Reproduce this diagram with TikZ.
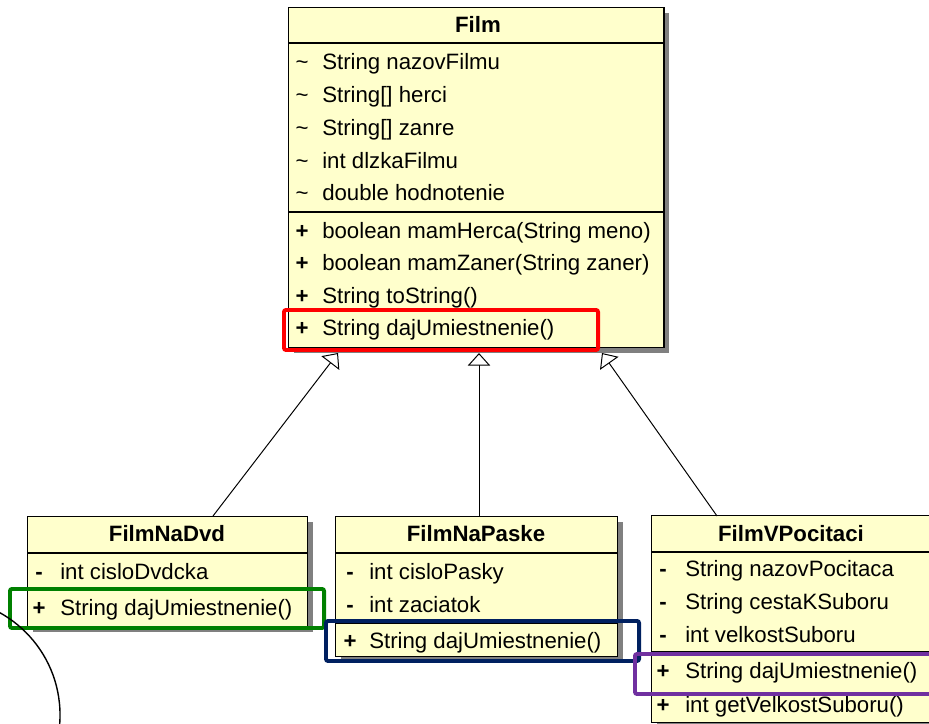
\documentclass[tikz,border=0pt]{standalone}
\usepackage{fontspec}
\setmainfont{Liberation Sans}
\usetikzlibrary{arrows.meta,shadows}
\definecolor{umlfill}{RGB}{255,255,204}
\definecolor{hlred}{RGB}{255,0,0}
\definecolor{hlgreen}{RGB}{0,128,0}
\definecolor{hlnavy}{RGB}{0,32,96}
\definecolor{hlpurple}{RGB}{112,48,160}
\begin{document}
\begin{tikzpicture}[
    x=0.025cm, y=-0.025cm,
    cls/.style={draw, line width=1pt, fill=umlfill, anchor=north west, inner sep=0pt,
      drop shadow={shadow xshift=1.3mm, shadow yshift=-1.3mm, fill=gray, opacity=1}},
    title/.style={font=\fontsize{15.8}{19}\selectfont\bfseries, inner sep=0pt, text height=13pt, text depth=1pt},
    vis/.style={font=\fontsize{15.8}{19}\selectfont\bfseries, inner sep=0pt, text height=13pt, text depth=1pt},
    member/.style={font=\fontsize{15.8}{19}\selectfont, anchor=west, inner sep=0pt, text height=13pt, text depth=1pt},
    hl/.style={draw=#1, line width=2.8pt, rounded corners=1.5pt, anchor=north west, inner sep=0pt},
    inherit/.style={-{Triangle[open, length=9pt, width=16pt, fill=white]}, line width=0.7pt}
]
\useasboundingbox (0,0) rectangle (929,724);
\clip (0,0) rectangle (929,724);

% Parent class
\node[cls, minimum width=9.375cm, minimum height=8.5cm] (film) at (288,7) {};
\draw[line width=1pt] (288,43) -- (663,43);
\draw[line width=1pt] (288,212) -- (663,212);
\node[title] (filmT) at (478,24) {Film};
\node[vis, font=\fontsize{15.8}{19}\selectfont] (filmA1v) at (302,61) {\textasciitilde};
\node[member] (filmA1) at (322,61) {String nazovFilmu};
\node[vis, font=\fontsize{15.8}{19}\selectfont] (filmA2v) at (302,94) {\textasciitilde};
\node[member] (filmA2) at (322,94) {String[] herci};
\node[vis, font=\fontsize{15.8}{19}\selectfont] (filmA3v) at (302,127) {\textasciitilde};
\node[member] (filmA3) at (322,127) {String[] zanre};
\node[vis, font=\fontsize{15.8}{19}\selectfont] (filmA4v) at (302,160) {\textasciitilde};
\node[member] (filmA4) at (322,160) {int dlzkaFilmu};
\node[vis, font=\fontsize{15.8}{19}\selectfont] (filmA5v) at (302,192) {\textasciitilde};
\node[member] (filmA5) at (322,192) {double hodnotenie};
\node[vis] (filmM1v) at (302,230) {+};
\node[member] (filmM1) at (322,230) {boolean mamHerca(String meno)};
\node[vis] (filmM2v) at (302,262) {+};
\node[member] (filmM2) at (322,262) {boolean mamZaner(String zaner)};
\node[vis] (filmM3v) at (302,295) {+};
\node[member] (filmM3) at (322,295) {String toString()};
\node[vis] (filmM4v) at (302,327) {+};
\node[member] (filmM4) at (322,327) {String dajUmiestnenie()};

% Subclasses
\node[cls, minimum width=7cm, minimum height=2.75cm] (dvd) at (27,516) {};
\draw[line width=1pt] (27,553) -- (307,553);
\draw[line width=1pt] (27,589) -- (307,589);
\node[title] (dvdT) at (167,533) {FilmNaDvd};
\node[vis] (dvdA1v) at (39,571) {-};
\node[member] (dvdA1) at (60,571) {int cisloDvdcka};
\node[vis] (dvdM1v) at (39,607) {+};
\node[member] (dvdM1) at (60,607) {String dajUmiestnenie()};

\node[cls, minimum width=7.05cm, minimum height=3.5cm] (paske) at (335,516) {};
\draw[line width=1pt] (335,553) -- (617,553);
\draw[line width=1pt] (335,623) -- (617,623);
\node[title] (paskeT) at (476,533) {FilmNaPaske};
\node[vis] (paskeA1v) at (350,571) {-};
\node[member] (paskeA1) at (369,571) {int cisloPasky};
\node[vis] (paskeA2v) at (350,604) {-};
\node[member] (paskeA2) at (369,604) {int zaciatok};
\node[vis] (paskeM1v) at (350,640) {+};
\node[member] (paskeM1) at (369,640) {String dajUmiestnenie()};

\node[cls, minimum width=7cm, minimum height=5.175cm] (pocitac) at (651,515) {};
\draw[line width=1pt] (651,552) -- (931,552);
\draw[line width=1pt] (651,652) -- (931,652);
\node[title] (pocitacT) at (791,533) {FilmVPocitaci};
\node[vis] (pocitacA1v) at (663,568) {-};
\node[member] (pocitacA1) at (685,568) {String nazovPocitaca};
\node[vis] (pocitacA2v) at (663,601) {-};
\node[member] (pocitacA2) at (685,601) {String cestaKSuboru};
\node[vis] (pocitacA3v) at (663,634) {-};
\node[member] (pocitacA3) at (685,634) {int velkostSuboru};
\node[vis] (pocitacM1v) at (663,670) {+};
\node[member] (pocitacM1) at (685,670) {String dajUmiestnenie()};
\node[vis] (pocitacM2v) at (663,704) {+};
\node[member] (pocitacM2) at (685,704) {int getVelkostSuboru()};

% Inheritance
\coordinate (dvdUp) at (213,516);
\coordinate (filmL) at (338,353);
\coordinate (paskeUp) at (479,516);
\coordinate (filmM) at (479,353);
\coordinate (pocitacUp) at (717,516);
\coordinate (filmR) at (602,353);
\draw[inherit] (dvdUp) -- (filmL);
\draw[inherit] (paskeUp) -- (filmM);
\draw[inherit] (pocitacUp) -- (filmR);

% Highlights
\node[hl=hlred, minimum width=7.85cm, minimum height=1cm] (hlFilm) at (282,308) {};
\node[hl=hlgreen, minimum width=7.85cm, minimum height=0.975cm] (hlDvd) at (8,587) {};
\node[hl=hlnavy, minimum width=7.825cm, minimum height=1cm] (hlPaske) at (324,619) {};
\node[hl=hlpurple, minimum width=7.6cm, minimum height=1cm] (hlPocitac) at (633,652) {};

% Circle
\draw[line width=1pt] (-57,715) circle[radius=2.925cm];
\end{tikzpicture}
\end{document}
